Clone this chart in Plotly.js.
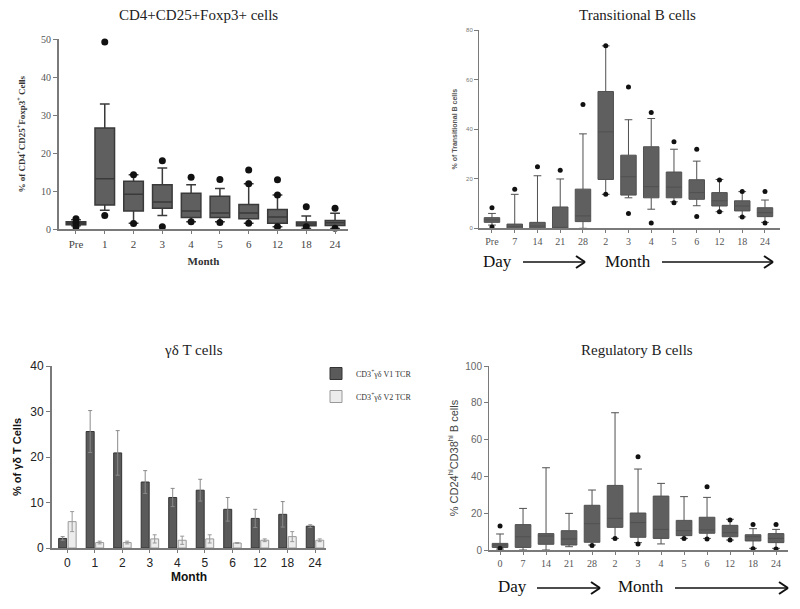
<!DOCTYPE html>
<html>
<head>
<meta charset="utf-8">
<script src="https://cdn.plot.ly/plotly-3.0.1.min.js"></script>
<style>html,body{margin:0;padding:0;background:#fff;}#chart{width:800px;height:609px;}</style>
</head>
<body>
<div id="chart"></div>
<script>
// ---------- Panel 1: CD4+CD25+Foxp3+ cells (box plots) ----------
const cats1 = ["Pre", "1", "2", "3", "4", "5", "6", "12", "18", "24"];
const p1Low = [0.9, 5.0, 1.6, 3.6, 2.0, 2.0, 1.6, 0.7, 0.2, 0.2];
const p1Q1 = [1.2, 6.4, 4.8, 5.5, 3.1, 3.1, 2.8, 1.6, 0.9, 1.0];
const p1Med = [1.6, 13.3, 9.2, 7.2, 4.8, 4.3, 4.3, 3.2, 1.4, 1.7];
const p1Q3 = [2.0, 26.6, 12.6, 11.7, 9.5, 8.7, 6.5, 5.2, 1.9, 2.3];
const p1High = [2.5, 32.9, 14.3, 16.1, 11.7, 10.7, 12.0, 9.0, 3.5, 4.2];
const p1OutX = ["Pre", "Pre", "Pre", "1", "1", "2", "2", "3", "3", "4", "4", "5", "5", "6", "6", "6", "12", "12", "12", "18", "18", "24", "24"];
const p1OutY = [2.8, 1.7, 0.7, 49.2, 3.6, 14.3, 1.5, 18.0, 0.7, 13.7, 2.0, 13.1, 1.8, 15.6, 12.0, 1.6, 13.0, 9.0, 0.7, 5.9, 0.7, 5.5, 0.3];

// ---------- Panel 2: Transitional B cells ----------
const cats2 = ["Pre", "7", "14", "21", "28", "2", "3", "4", "5", "6", "12", "18", "24"];
const p2Low = [1.3, 0, 0, 0, 0, 13.7, 12.3, 7.7, 10.7, 9.1, 6.7, 4.6, 2.4];
const p2Q1 = [2.4, 0, 0, 0, 2.7, 19.7, 13.4, 12.3, 12.3, 11.7, 9.0, 7.0, 4.7];
const p2Med = [3.4, 0.8, 0.9, 0.1, 5.0, 38.9, 20.8, 16.8, 16.6, 14.4, 11.1, 9.0, 6.3];
const p2Q3 = [4.3, 1.7, 2.4, 8.6, 15.8, 55.2, 29.5, 32.9, 22.7, 19.6, 14.4, 11.1, 8.3];
const p2High = [6.0, 13.7, 21.2, 19.9, 38.1, 73.6, 43.8, 44.3, 31.9, 27.1, 19.7, 14.8, 11.4];
const p2OutX = ["Pre", "Pre", "7", "14", "21", "28", "2", "2", "3", "3", "4", "4", "5", "5", "6", "6", "12", "12", "18", "18", "24", "24"];
const p2OutY = [8.3, 0.5, 15.8, 24.8, 23.4, 49.9, 73.6, 13.7, 57.0, 6.0, 46.7, 2.1, 34.9, 10.3, 31.9, 4.8, 19.5, 6.7, 14.8, 4.6, 14.8, 2.1];

// ---------- Panel 3: γδ T cells (bars, mean ± error) ----------
const cats3 = ["0", "1", "2", "3", "4", "5", "6", "12", "18", "24"];
const v1Mean = [2.1, 25.6, 20.9, 14.5, 11.1, 12.7, 8.5, 6.5, 7.4, 4.8];
const v1Err = [0.4, 4.6, 4.9, 2.5, 2.0, 2.4, 2.6, 2.0, 2.8, 0.3];
const v2Mean = [5.8, 1.2, 1.2, 2.0, 1.7, 2.0, 1.1, 1.7, 2.5, 1.7];
const v2Err = [2.2, 0.3, 0.3, 0.9, 0.9, 0.9, 0.1, 0.3, 1.1, 0.3];
const v1Name = "CD3<sup>+</sup>γδ V1 TCR";
const v2Name = "CD3<sup>+</sup>γδ V2 TCR";

// ---------- Panel 4: Regulatory B cells ----------
const cats4 = ["0", "7", "14", "21", "28", "2", "3", "4", "5", "6", "12", "18", "24"];
const p4Low = [0.5, 0, 0, 1.8, 2.7, 6.3, 4.0, 3.3, 6.3, 6.3, 5.4, 0.9, 0.9];
const p4Q1 = [1.4, 1.4, 3.1, 2.7, 4.2, 12.3, 6.9, 6.3, 7.8, 9.1, 7.2, 4.9, 4.0];
const p4Med = [2.7, 7.2, 7.6, 6.0, 14.3, 17.2, 14.9, 11.2, 10.5, 10.9, 9.4, 7.2, 6.3];
const p4Q3 = [3.6, 13.8, 8.9, 10.5, 24.3, 35.1, 20.1, 29.3, 16.1, 17.8, 13.4, 8.3, 8.9];
const p4High = [8.7, 22.6, 44.7, 19.9, 32.6, 74.6, 44.0, 36.2, 29.0, 28.6, 16.7, 11.6, 11.2];
const p4OutX = ["0", "0", "28", "2", "3", "3", "5", "6", "6", "12", "12", "18", "18", "24", "24"];
const p4OutY = [13.0, 0.9, 2.4, 6.3, 50.7, 3.3, 6.3, 34.4, 6.0, 16.3, 5.4, 13.8, 0.7, 13.8, 0.5];

// ---------- helpers (layout geometry) ----------
const W = 800, H = 609;
const dx = (a, b) => [a / W, b / W];
const dy = (top, bottom) => [1 - bottom / H, 1 - top / H];
const px = a => a / W;
const py = b => 1 - b / H;
const SERIF = "Liberation Serif, Times New Roman, serif";
const SANS = "Liberation Sans, Arial, sans-serif";

const boxFill = "#5f5f5f";

function boxTrace(cats, low, q1, med, q3, high, xa, ya, lineColor, lineW) {
  return {
    type: "box", x: cats, lowerfence: low, q1: q1, median: med, q3: q3, upperfence: high,
    xaxis: xa, yaxis: ya, width: 0.68, whiskerwidth: 0.5,
    fillcolor: boxFill, line: {color: lineColor, width: lineW},
    boxpoints: false, showlegend: false, hoverinfo: "skip"
  };
}
function outTrace(x, y, xa, ya, size) {
  return {
    type: "scatter", mode: "markers", x: x, y: y, xaxis: xa, yaxis: ya,
    marker: {color: "#111", size: size}, cliponaxis: false, showlegend: false, hoverinfo: "skip"
  };
}

const data = [
  boxTrace(cats1, p1Low, p1Q1, p1Med, p1Q3, p1High, "x", "y", "#3a3a3a", 1.5),
  outTrace(p1OutX, p1OutY, "x", "y", 7),
  boxTrace(cats2, p2Low, p2Q1, p2Med, p2Q3, p2High, "x2", "y2", "#505050", 1),
  outTrace(p2OutX, p2OutY, "x2", "y2", 5),
  {
    type: "bar", name: v1Name, x: cats3, y: v1Mean, xaxis: "x3", yaxis: "y3",
    marker: {color: "#5a5a5a", line: {color: "#333", width: 1}},
    error_y: {type: "data", array: v1Err, visible: true, color: "#8a8a8a", thickness: 1, width: 2},
    legendgroup: "a", hoverinfo: "skip"
  },
  {
    type: "bar", name: v2Name, x: cats3, y: v2Mean, xaxis: "x3", yaxis: "y3",
    marker: {color: "#ececec", line: {color: "#999", width: 1}},
    error_y: {type: "data", array: v2Err, visible: true, color: "#999", thickness: 1, width: 2},
    legendgroup: "b", hoverinfo: "skip"
  },
  boxTrace(cats4, p4Low, p4Q1, p4Med, p4Q3, p4High, "x4", "y4", "#505050", 1),
  outTrace(p4OutX, p4OutY, "x4", "y4", 5)
];

function xAxis(domain, range, cats, anchor, font) {
  return {
    domain: domain, range: range, type: "category", categoryorder: "array", categoryarray: cats,
    anchor: anchor, showline: true, linecolor: "#7a7a7a", linewidth: 2,
    ticks: "outside", ticklen: 3, tickcolor: "#7a7a7a", showgrid: false, zeroline: false,
    tickfont: font, fixedrange: true
  };
}
function yAxis(domain, range, dtick, anchor, font) {
  return {
    domain: domain, range: range, anchor: anchor, dtick: dtick, showline: true,
    linecolor: "#7a7a7a", linewidth: 2, ticks: "outside", ticklen: 4, tickcolor: "#7a7a7a",
    showgrid: false, zeroline: false, tickfont: font, fixedrange: true
  };
}
function label(text, xp, yp, font) {
  return {text: text, x: px(xp), y: py(yp), xref: "paper", yref: "paper", showarrow: false,
          xanchor: "center", yanchor: "middle", font: font};
}

const titleFont = {family: SERIF, size: 15, color: "#222"};
const dayFont = {family: SERIF, size: 17, color: "#111"};

const layout = {
  width: W, height: H, margin: {l: 0, r: 0, t: 0, b: 0},
  paper_bgcolor: "#fff", plot_bgcolor: "rgba(0,0,0,0)",
  barmode: "group", bargap: 0.31, bargroupgap: 0.16, boxmode: "overlay",
  showlegend: true,
  legend: {
    x: px(316), y: py(359), xanchor: "left", yanchor: "top",
    font: {family: SERIF, size: 8, color: "#333"}, tracegroupgap: 4,
    bgcolor: "rgba(0,0,0,0)", traceorder: "grouped", itemwidth: 30
  },
  xaxis: Object.assign(xAxis(dx(59, 348), [-0.59, 9.45], cats1, "y", {family: SERIF, size: 11, color: "#444"}),
    {title: {text: "<b>Month</b>", font: {family: SERIF, size: 11, color: "#333"}, standoff: 9}}),
  yaxis: Object.assign(yAxis(dy(39, 229.3), [0, 50], 10, "x", {family: SERIF, size: 10, color: "#555"}),
    {title: {text: "<b>% of CD4<sup>+</sup>CD25<sup>+</sup>Foxp3<sup>+</sup> Cells</b>", font: {family: SERIF, size: 9, color: "#333"}, standoff: 14}}),
  xaxis2: xAxis(dx(479, 780), [-0.57, 12.66], cats2, "y2", {family: SERIF, size: 10, color: "#555"}),
  yaxis2: Object.assign(yAxis(dy(30, 228.3), [0, 80], 20, "x2", {family: SANS, size: 6, color: "#777"}),
    {linewidth: 1, title: {text: "<b>% of Transitional B cells</b>", font: {family: SANS, size: 7, color: "#555"}, standoff: 7}}),
  xaxis3: Object.assign(xAxis(dx(52, 326), [-0.56, 9.4], cats3, "y3", {family: SANS, size: 12, color: "#222"}),
    {title: {text: "<b>Month</b>", font: {family: SANS, size: 12, color: "#111"}, standoff: 0}}),
  yaxis3: Object.assign(yAxis(dy(366, 548), [0, 40], 10, "x3", {family: SANS, size: 12, color: "#222"}),
    {title: {text: "<b>% of γδ T Cells</b>", font: {family: SANS, size: 11, color: "#111"}, standoff: 6}}),
  xaxis4: xAxis(dx(489, 788), [-0.48, 12.52], cats4, "y4", {family: SERIF, size: 10, color: "#555"}),
  yaxis4: Object.assign(yAxis(dy(366, 550), [0, 100], 20, "x4", {family: SANS, size: 10, color: "#666"}),
    {linewidth: 1, title: {text: "% CD24<sup>hi</sup>CD38<sup>hi</sup> B cells", font: {family: SANS, size: 11, color: "#444"}, standoff: 4}}),
  annotations: [
    label("CD4+CD25+Foxp3+ cells", 198, 15, titleFont),
    label("Transitional B cells", 637, 15, titleFont),
    label("γδ T cells", 193, 350, titleFont),
    label("Regulatory B cells", 637, 350, titleFont),
    label("Day", 497, 261, dayFont),
    label("Month", 628, 261, dayFont),
    label("Day", 512, 586, dayFont),
    label("Month", 641, 586, dayFont)
  ],
  shapes: []
};

// arrows (decorative lines with chevron heads)
function arrow(x1, x2, yv) {
  const s = {type: "line", xref: "paper", yref: "paper", line: {color: "#111", width: 1.5}};
  layout.shapes.push(Object.assign({}, s, {x0: px(x1), x1: px(x2), y0: py(yv), y1: py(yv)}));
  layout.shapes.push(Object.assign({}, s, {x0: px(x2 - 9), x1: px(x2), y0: py(yv - 6), y1: py(yv), line: {color: "#111", width: 2}}));
  layout.shapes.push(Object.assign({}, s, {x0: px(x2 - 9), x1: px(x2), y0: py(yv + 6), y1: py(yv), line: {color: "#111", width: 2}}));
}
arrow(523, 585, 262);
arrow(662, 773, 262);
arrow(537, 600, 588);
arrow(675, 788, 588);

Plotly.newPlot("chart", data, layout, {staticPlot: true, displayModeBar: false});
</script>
</body>
</html>
